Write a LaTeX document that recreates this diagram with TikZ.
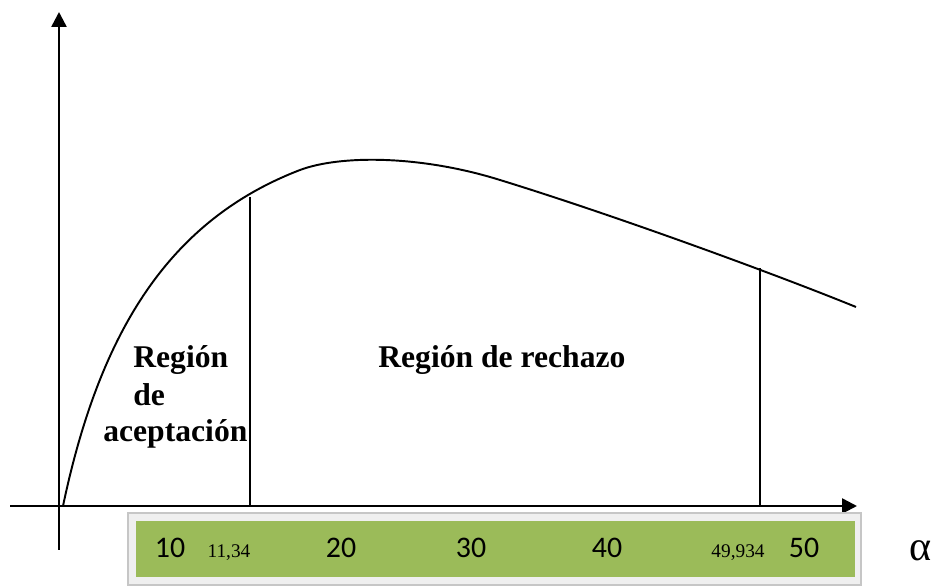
\documentclass[tikz,border=0pt]{standalone}
\usepackage{fontspec}
\setmainfont{Liberation Serif}
\newfontfamily\calibri{Carlito}
\usetikzlibrary{arrows.meta}
\definecolor{bandgreen}{HTML}{9BBB59}
\definecolor{bandgray}{HTML}{EFEFEF}

\begin{document}
\begin{tikzpicture}[x=0.02cm,y=-0.02cm,
  axis/.style={line width=1.4pt,-{Triangle[length=8.5pt,width=8.5pt]}},
  curve/.style={line width=1.1pt},
  cut/.style={line width=1pt},
  region/.style={font=\fontsize{18}{20}\selectfont\bfseries,inner sep=0pt,anchor=base west},
  big/.style={font=\calibri\fontsize{17}{19}\selectfont,inner sep=0pt,anchor=base},
  small/.style={font=\fontsize{11}{12}\selectfont,inner sep=0pt,anchor=base}]

\useasboundingbox (0,0) rectangle (941,587);

% axes
\coordinate (o) at (59,506);
\coordinate (xa) at (10,506);
\coordinate (xb) at (857,506);
\coordinate (ya) at (59,550);
\coordinate (yb) at (59,12);
\draw[axis] (ya) -- (yb);
\draw[axis] (xa) -- (xb);

% density curve
\coordinate (f0) at (63,506);
\coordinate (f1) at (300,170);
\coordinate (f2) at (500,180);
\coordinate (f3) at (856,307);
\draw[curve] (f0) .. controls (100,330) and (170,220) .. (f1)
  .. controls (340,155) and (420,155) .. (f2)
  .. controls (620,217) and (780,276) .. (f3);

% critical values
\coordinate (c1) at (250,197);
\coordinate (c2) at (760,268);
\draw[cut] (c1) -- (c1 |- o);
\draw[cut] (c2) -- (c2 |- o);

% scale band
\filldraw[fill=bandgray,draw=gray!45,line width=0.6pt] (128,513) rectangle (861,585);
\fill[bandgreen] (136,521) rectangle (855,577);

\node[big](n10) at (170,558){10};
\node[small](v1) at (229,558){11,34};
\node[big](n20) at (341,558){20};
\node[big](n30) at (471,558){30};
\node[big](n40) at (607,558){40};
\node[small](v2) at (738,558){49,934};
\node[big](n50) at (804,558){50};
\node[font=\fontsize{24}{26}\selectfont,inner sep=0pt,anchor=base](alpha) at (921,561){α};

% regions
\node[region](acc1) at (133,368){Región};
\node[region](acc2) at (133,406){de};
\node[region](acc3) at (103,442){aceptación};
\node[region](rej) at (378,368){Región de rechazo};

\end{tikzpicture}
\end{document}
